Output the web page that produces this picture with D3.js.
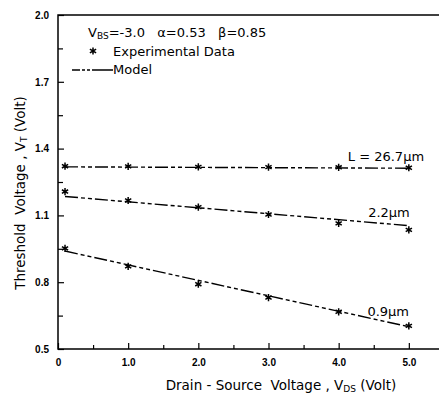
<!DOCTYPE html>
<html>
<head>
<meta charset="utf-8">
<script src="https://cdn.jsdelivr.net/npm/d3@7"></script>
<style>
  body { margin: 0; background: #fff; }
  svg { font-family: 'DejaVu Sans', 'Liberation Sans', sans-serif; }
  text { white-space: pre; }
</style>
</head>
<body>
<svg width="439" height="394"></svg>
<script>
// Data
const vdsPoints = [0.1, 1, 2, 3, 4, 5];
const expL267 = [1.321, 1.320, 1.318, 1.317, 1.316, 1.314];
const expL22 = [1.207, 1.167, 1.137, 1.104, 1.064, 1.035];
const expL09 = [0.952, 0.871, 0.791, 0.731, 0.667, 0.604];
const modelVds = [0.1, 5];
const modelL267 = [1.318, 1.312];
const modelL22 = [1.185, 1.054];
const modelL09 = [0.94, 0.60];
const seriesLabels = ['L = 26.7\u00b5m', '2.2\u00b5m', '0.9\u00b5m'];
const xTicks = [0, 1, 2, 3, 4, 5];
const xMinor = [0.5, 1.5, 2.5, 3.5, 4.5, 5.5];
const yTicks = [0.5, 0.8, 1.1, 1.4, 1.7, 2.0];
const yMinor = [0.65, 0.95, 1.25, 1.55, 1.85];

const svg = d3.select('svg');
const margin = {top: 15, right: 0, bottom: 45, left: 58};
const width = 439 - margin.left - margin.right;
const height = 394 - margin.top - margin.bottom;

const x = d3.scaleLinear().domain([0, 5.43]).range([0, width]);
const y = d3.scaleLinear().domain([0.5, 2.0]).range([height, 0]);

const g = svg.append('g')
    .attr('transform', `translate(${margin.left}, ${margin.top})`);

// Frame: left, bottom, top
g.append('path')
  .attr('d', `M${width},0H0V${height}H${width}`)
  .attr('fill', 'none')
  .attr('stroke', '#000')
  .attr('stroke-width', 1.5);

// Axes with inward ticks
const xAxis = d3.axisBottom(x)
  .tickValues(xTicks)
  .tickSize(-6)
  .tickSizeOuter(0)
  .tickPadding(10)
  .tickFormat((d) => d === 0 ? '0' : d3.format('.1f')(d));
g.append('g')
  .attr('transform', `translate(0, ${height})`)
  .call(xAxis)
  .call((a) => a.select('.domain').remove());

g.append('g')
  .attr('transform', `translate(0, ${height})`)
  .call(d3.axisBottom(x).tickValues(xMinor).tickSize(-4).tickFormat(''))
  .call((a) => a.select('.domain').remove());

const yAxis = d3.axisLeft(y)
  .tickValues(yTicks)
  .tickSize(-6)
  .tickSizeOuter(0)
  .tickPadding(9)
  .tickFormat(d3.format('.1f'));
g.append('g')
  .call(yAxis)
  .call((a) => a.select('.domain').remove());

g.append('g')
  .call(d3.axisLeft(y).tickValues(yMinor).tickSize(-5).tickFormat(''))
  .call((a) => a.select('.domain').remove());

g.selectAll('.tick line').attr('stroke', '#000').attr('stroke-width', 1.2);
g.selectAll('.tick text')
  .attr('fill', '#000')
  .style('font-size', '10px')
  .style('font-weight', 'bold');

// Model lines
const dash = '13,3,4,3,4,3';
const line = d3.line().x((d) => x(d[0])).y((d) => y(d[1]));
[modelL267, modelL22, modelL09].forEach((vals) => {
  g.append('path')
    .datum(modelVds.map((v, i) => [v, vals[i]]))
    .attr('d', line)
    .attr('fill', 'none')
    .attr('stroke', '#000')
    .attr('stroke-width', 1.4)
    .attr('stroke-dasharray', dash);
});

// Experimental points
const star = d3.symbol(d3.symbolAsterisk, 36);
[expL267, expL22, expL09].forEach((vals) => {
  g.selectAll(null)
    .data(vdsPoints.map((v, i) => [v, vals[i]]))
    .enter()
    .append('path')
      .attr('d', star)
      .attr('transform', (d) => `translate(${x(d[0])}, ${y(d[1])})`)
      .attr('fill', 'none')
      .attr('stroke', '#000')
      .attr('stroke-width', 1.5);
});

// Curve labels
const labelPos = [[4.13, 1.344], [4.42, 1.093], [4.41, 0.648]];
labelPos.forEach((p, i) => {
  g.append('text')
    .attr('x', x(p[0]))
    .attr('y', y(p[1]))
    .style('font-size', '13px')
    .text(seriesLabels[i]);
});

// Legend
const leg = svg.append('g').style('font-size', '13px');
const t1 = leg.append('text').attr('x', 88).attr('y', 37);
t1.append('tspan').text('V');
t1.append('tspan').attr('dy', 2).style('font-size', '9px').text('BS');
t1.append('tspan').attr('dy', -2).text('=-3.0   \u03b1=0.53   \u03b2=0.85');

leg.append('path')
  .attr('d', star)
  .attr('transform', 'translate(93, 51)')
  .attr('fill', 'none')
  .attr('stroke', '#000')
  .attr('stroke-width', 1.5);
leg.append('text').attr('x', 113).attr('y', 56).text('Experimental Data');

leg.append('path')
  .attr('d', 'M72,70H113')
  .attr('stroke', '#000')
  .attr('stroke-width', 1.4)
  .attr('stroke-dasharray', '8,2,3,2,3,2,30');
leg.append('text').attr('x', 113).attr('y', 74).text('Model');

// Axis titles
const xt = svg.append('text')
  .attr('x', 281)
  .attr('y', 390)
  .attr('text-anchor', 'middle')
  .style('font-size', '13.5px');
xt.append('tspan').text('Drain - Source  Voltage , V');
xt.append('tspan').attr('dy', 2).style('font-size', '9px').text('DS');
xt.append('tspan').attr('dy', -2).text(' (Volt)');

const yt = svg.append('text')
  .attr('transform', 'translate(25, 193) rotate(-90)')
  .attr('text-anchor', 'middle')
  .style('font-size', '13.5px');
yt.append('tspan').text('Threshold  Voltage , V');
yt.append('tspan').attr('dy', 2).style('font-size', '9px').text('T');
yt.append('tspan').attr('dy', -2).text(' (Volt)');
</script>
</body>
</html>
